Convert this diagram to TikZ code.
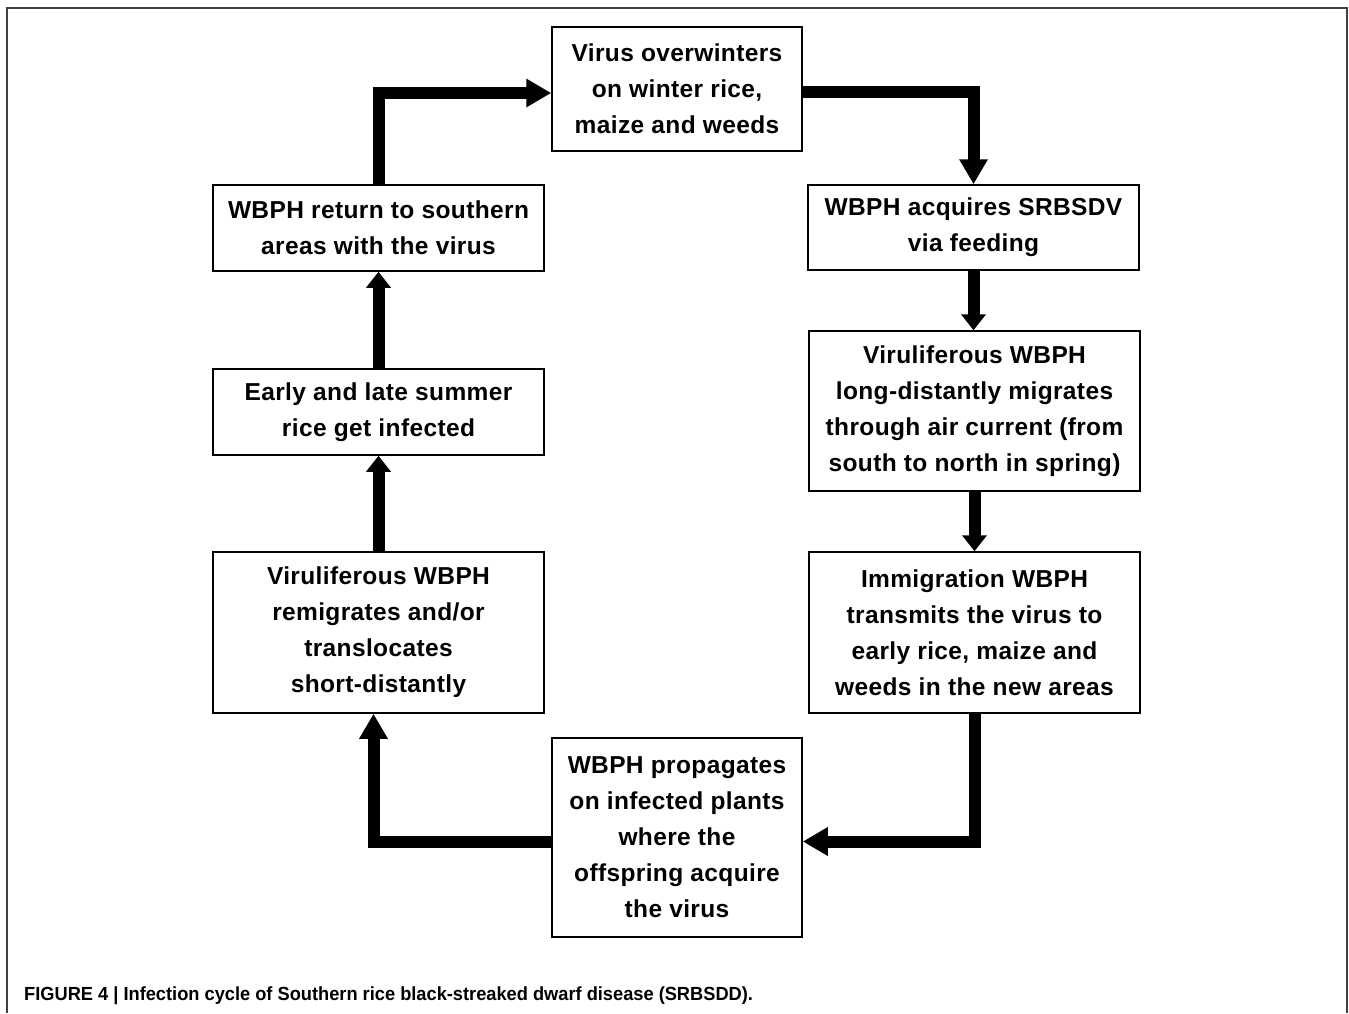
\documentclass[tikz,border=0pt]{standalone}
\usepackage{fontspec}
\setmainfont[LetterSpace=1.5]{Liberation Sans}
\newfontfamily\capfont[FakeStretch=0.96]{Liberation Sans}
\usetikzlibrary{arrows.meta}
\begin{document}
\begin{tikzpicture}[x=1pt,y=-1pt,
  box/.style={draw,line width=1.5pt,align=center,inner sep=0pt,
    font=\fontsize{24.5}{36}\selectfont\bfseries},
  flow/.style={line width=12pt,-{Triangle[length=25pt,width=27pt]}},
  shortflow/.style={line width=12pt,-{Triangle[length=16pt,width=24pt]}}]
 \useasboundingbox (0,0) rectangle (1349,1013);
 \draw[line width=1.5pt,black!75](7,1013)--(7,8)--(1347,8)--(1347,1013);
 % boxes
 \node[box,minimum width=250pt,minimum height=124pt] (winter) at (677,89) {Virus overwinters\\on winter rice,\\maize and weeds};
 \node[box,minimum width=331pt,minimum height=85pt] (acquire) at (973.5,227.5) {WBPH acquires SRBSDV\\via feeding};
 \node[box,minimum width=331pt,minimum height=160pt] (migrate) at (974.5,411) {Viruliferous WBPH\\long-distantly migrates\\through air current (from\\south to north in spring)};
 \node[box,minimum width=331pt,minimum height=161pt] (transmit) at (974.5,632.5) {Immigration WBPH\\transmits the virus to\\early rice, maize and\\weeds in the new areas};
 \node[box,minimum width=250pt,minimum height=199pt] (propagate) at (677,837.5) {WBPH propagates\\on infected plants\\where the\\offspring acquire\\the virus};
 \node[box,minimum width=331pt,minimum height=161pt] (remigrate) at (378.5,632.5) {Viruliferous WBPH\\remigrates and/or\\translocates\\short-distantly};
 \node[box,minimum width=331pt,minimum height=86pt] (summer) at (378.5,412) {Early and late summer\\rice get infected};
 \node[box,minimum width=331pt,minimum height=86pt] (return) at (378.5,228) {WBPH return to southern\\areas with the virus};
 % arrows
 \draw[flow]([yshift=-3pt]winter.east) -| (acquire.north);
 \draw[shortflow](acquire.south) -- (acquire.south |- migrate.north);
 \draw[shortflow](migrate.south) -- (migrate.south |- transmit.north);
 \draw[flow](transmit.south) |- ([yshift=-4pt]propagate.east);
 \draw[flow]([yshift=-4pt]propagate.west) -| ([xshift=-5pt]remigrate.south);
 \draw[shortflow](remigrate.north) -- (summer.south);
 \draw[shortflow](summer.north) -- (return.south);
 \draw[flow](return.north) |- ([yshift=-4pt]winter.west);
 % caption
 \node[anchor=base west,inner sep=0pt,font=\capfont\fontsize{19}{22}\selectfont\bfseries] (caption) at (24,1000) {FIGURE 4 | Infection cycle of Southern rice black-streaked dwarf disease (SRBSDD).};
\end{tikzpicture}
\end{document}
